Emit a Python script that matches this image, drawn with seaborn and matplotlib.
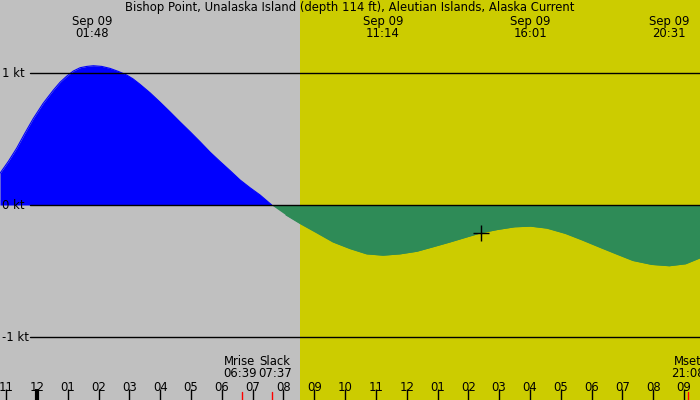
import numpy as np
import pandas as pd
import matplotlib
matplotlib.use("Agg")
import matplotlib.pyplot as plt
import matplotlib.transforms as mtransforms
import seaborn as sns

# current speed (kt), hours since midnight Sep 09
hours = [-1.20, -0.93, -0.66, -0.39, -0.12, 0.20, 0.53, 0.75, 0.96, 1.18,
         1.40, 1.62, 1.83, 2.10, 2.37, 2.64, 2.91, 3.12, 3.34, 3.67,
         3.99, 4.32, 4.64, 4.97, 5.29, 5.62, 5.94, 6.27, 6.59, 6.92,
         7.24, 7.62, 8.08, 8.54, 9.08, 9.61, 10.16, 10.70, 11.23, 11.78,
         12.33, 12.87, 13.40, 13.90, 14.41, 14.95, 15.50, 16.02, 16.55, 17.15,
         17.70, 18.27, 18.80, 19.34, 19.95, 20.52, 21.05, 21.52]
speed = [0.24, 0.33, 0.43, 0.545, 0.655, 0.77, 0.87, 0.93, 0.975, 1.015,
         1.04, 1.05, 1.055, 1.05, 1.035, 1.012, 0.985, 0.955, 0.915, 0.85,
         0.78, 0.705, 0.63, 0.555, 0.48, 0.40, 0.33, 0.26, 0.19, 0.13,
         0.076, 0.0, -0.075, -0.14, -0.21, -0.28, -0.33, -0.37, -0.38, -0.37,
         -0.35, -0.315, -0.28, -0.245, -0.21, -0.185, -0.165, -0.16, -0.175, -0.215,
         -0.265, -0.32, -0.37, -0.42, -0.45, -0.46, -0.445, -0.40]

# max / min events shown at top
event_hours = [1.80, 11.23, 16.02, 20.52]
event_labels = ["Sep 09\n01:48", "Sep 09\n11:14", "Sep 09\n16:01", "Sep 09\n20:31"]

# moon / slack events shown at bottom
mark_hours = [6.65, 7.62, 21.13]
mark_labels = ["Mrise\n06:39", "Slack\n07:37", "Mset\n21:08"]
mark_nudge = [-2, 3, 0]  # px, keeps the two close labels apart

tick_hours = list(range(-1, 22))
tick_labels = ["11", "12", "01", "02", "03", "04", "05", "06", "07", "08", "09",
               "10", "11", "12", "01", "02", "03", "04", "05", "06", "07", "08", "09"]

kt_levels = [1, 0, -1]
kt_labels = ["1 kt", "0 kt", "-1 kt"]

sunrise = 8.54
now_hour, now_speed = 14.41, -0.21
title = "Bishop Point, Unalaska Island (depth 114 ft), Aleutian Islands, Alaska Current"

df = pd.DataFrame({"hour": hours, "speed": speed})
df["dir"] = np.where(df["speed"] >= 0, "flood", "ebb")

sns.set_style("white", {"xtick.bottom": True, "text.color": "black",
                        "xtick.color": "black"})
plt.rcParams["font.family"] = ["DejaVu Sans"]
fs = 8.4

fig = plt.figure(figsize=(7, 4), dpi=100)
ax = fig.add_axes([0, 0, 1, 1])
xmin, xmax = -1.20, 21.52
ax.set_xlim(xmin, xmax)
ax.set_ylim(-1.477, 1.553)
ax.set_facecolor("#C0C0C0")
for s in ax.spines.values():
    s.set_visible(False)

ax.axvspan(sunrise, xmax, color="#CCCC00", lw=0, zorder=0)

h = df["hour"].to_numpy()
v = df["speed"].to_numpy()
ax.fill_between(h, v, 0, where=v >= 0, interpolate=True, color="#0000FF", lw=0, zorder=2)
ax.fill_between(h, v, 0, where=v <= 0, interpolate=True, color="#2E8B57", lw=0, zorder=2)
sns.lineplot(data=df, x="hour", y="speed", hue="dir",
             palette={"flood": "#0000FF", "ebb": "#2E8B57"},
             legend=False, lw=0.8, ax=ax, zorder=2)

blend = mtransforms.blended_transform_factory(ax.transAxes, ax.transData)
for lvl, lab in zip(kt_levels, kt_labels):
    ax.plot([0.043, 1], [lvl, lvl], transform=blend, color="black", lw=1, zorder=3)
    ax.text(0.003, lvl, lab, transform=blend, ha="left", va="center", fontsize=fs,
            color="black", zorder=4)

ax.text(0.5, 0.997, title, transform=ax.transAxes, ha="center", va="top", fontsize=fs)
for eh, el in zip(event_hours, event_labels):
    ax.text(eh, 0.963, el, transform=ax.get_xaxis_transform(), ha="center", va="top",
            fontsize=fs, linespacing=0.95)

# hour ticks along the bottom edge
ax.set_xticks(tick_hours)
ax.set_xticklabels(tick_labels, fontsize=fs, color="black")
ax.set_yticks([])
ax.tick_params(axis="x", bottom=True, direction="in", length=8, width=1,
               color="black", pad=-14)
ax.xaxis.get_major_ticks()[1].tick1line.set_markeredgewidth(3)
ax.set_xlabel("")
ax.set_ylabel("")

xtrans = ax.get_xaxis_transform()
for mh, ml, nd in zip(mark_hours, mark_labels, mark_nudge):
    ax.plot([mh, mh], [0, 0.02], transform=xtrans, color="red", lw=1, zorder=5)
    ax.annotate(ml, (mh, 0.081), xycoords=xtrans, xytext=(nd * 0.72, 0),
                textcoords="offset points", ha="center", va="center",
                fontsize=fs, linespacing=0.95)

ax.plot([now_hour], [now_speed], marker="+", color="black", ms=11, mew=1, zorder=5)

fig.savefig("out.png", dpi=100)
